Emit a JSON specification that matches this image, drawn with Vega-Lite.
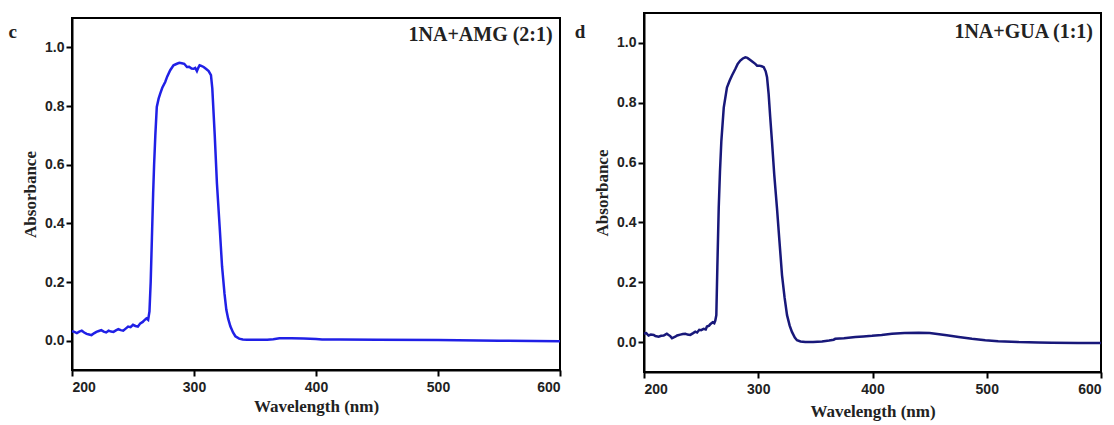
{
  "$schema": "https://vega.github.io/schema/vega-lite/v6.json",
  "background": "white",
  "padding": {"left": 7, "top": 12, "right": 5, "bottom": 5},
  "spacing": 7,
  "center": true,
  "config": {
    "view": {"stroke": "black", "strokeWidth": 2},
    "axis": {
      "grid": false,
      "domainColor": "black",
      "domainWidth": 2,
      "tickColor": "black",
      "tickWidth": 2,
      "tickSize": 6,
      "labelFont": "Liberation Sans",
      "labelFontWeight": "bold",
      "labelFontSize": 14,
      "labelColor": "#222",
      "titleFont": "Liberation Serif",
      "titleFontWeight": "bold",
      "titleFontSize": 17,
      "titleColor": "#222"
    }
  },
  "datasets": {
    "c": [
      {"w": 200, "a": 0.032}, {"w": 202, "a": 0.030}, {"w": 204, "a": 0.026}, {"w": 206, "a": 0.031},
      {"w": 208, "a": 0.034}, {"w": 210, "a": 0.028}, {"w": 212, "a": 0.023}, {"w": 214, "a": 0.021},
      {"w": 216, "a": 0.019}, {"w": 218, "a": 0.025}, {"w": 220, "a": 0.030}, {"w": 222, "a": 0.033},
      {"w": 224, "a": 0.036}, {"w": 226, "a": 0.031}, {"w": 228, "a": 0.028}, {"w": 230, "a": 0.034},
      {"w": 232, "a": 0.031}, {"w": 234, "a": 0.030}, {"w": 236, "a": 0.035}, {"w": 238, "a": 0.039},
      {"w": 240, "a": 0.036}, {"w": 242, "a": 0.034}, {"w": 244, "a": 0.041}, {"w": 246, "a": 0.048},
      {"w": 248, "a": 0.046}, {"w": 250, "a": 0.054}, {"w": 252, "a": 0.050}, {"w": 254, "a": 0.048},
      {"w": 256, "a": 0.059}, {"w": 258, "a": 0.064}, {"w": 259, "a": 0.068}, {"w": 261, "a": 0.076},
      {"w": 262.4, "a": 0.071}, {"w": 263.5, "a": 0.1}, {"w": 264.5, "a": 0.2}, {"w": 265.5, "a": 0.35},
      {"w": 266.5, "a": 0.5}, {"w": 267.3, "a": 0.6}, {"w": 268.3, "a": 0.7}, {"w": 269.5, "a": 0.797},
      {"w": 271, "a": 0.825}, {"w": 272.3, "a": 0.842}, {"w": 274, "a": 0.862}, {"w": 276.4, "a": 0.882},
      {"w": 278, "a": 0.9}, {"w": 280.5, "a": 0.922}, {"w": 283.2, "a": 0.939}, {"w": 286, "a": 0.944},
      {"w": 288, "a": 0.947}, {"w": 290, "a": 0.946}, {"w": 292, "a": 0.944}, {"w": 294.2, "a": 0.933},
      {"w": 296, "a": 0.934}, {"w": 298, "a": 0.928}, {"w": 299.6, "a": 0.927}, {"w": 301, "a": 0.93},
      {"w": 302.4, "a": 0.919}, {"w": 303.5, "a": 0.93}, {"w": 304.6, "a": 0.939}, {"w": 306, "a": 0.937},
      {"w": 307.9, "a": 0.933}, {"w": 310, "a": 0.926}, {"w": 312, "a": 0.919}, {"w": 313.9, "a": 0.905},
      {"w": 315, "a": 0.86}, {"w": 315.5, "a": 0.82}, {"w": 317, "a": 0.7}, {"w": 318.8, "a": 0.536},
      {"w": 321, "a": 0.39}, {"w": 323, "a": 0.253}, {"w": 325, "a": 0.16}, {"w": 326.5, "a": 0.105},
      {"w": 328, "a": 0.075}, {"w": 329.8, "a": 0.049}, {"w": 332, "a": 0.028}, {"w": 333.9, "a": 0.015},
      {"w": 337, "a": 0.007}, {"w": 340, "a": 0.004}, {"w": 343.5, "a": 0.003}, {"w": 350, "a": 0.003},
      {"w": 360, "a": 0.003}, {"w": 365, "a": 0.005}, {"w": 370, "a": 0.008}, {"w": 380, "a": 0.008},
      {"w": 390, "a": 0.007}, {"w": 400, "a": 0.006}, {"w": 405, "a": 0.004}, {"w": 420, "a": 0.004},
      {"w": 450, "a": 0.003}, {"w": 500, "a": 0.002}, {"w": 550, "a": 0.0}, {"w": 600, "a": -0.002}
    ],
    "d": [
      {"w": 200, "a": 0.028}, {"w": 202, "a": 0.030}, {"w": 204, "a": 0.022}, {"w": 206, "a": 0.025},
      {"w": 208.5, "a": 0.024}, {"w": 210, "a": 0.020}, {"w": 212.8, "a": 0.018}, {"w": 215, "a": 0.021},
      {"w": 217.2, "a": 0.022}, {"w": 219, "a": 0.026}, {"w": 220, "a": 0.028}, {"w": 221.5, "a": 0.024},
      {"w": 223, "a": 0.020}, {"w": 224.5, "a": 0.013}, {"w": 226, "a": 0.016}, {"w": 227.4, "a": 0.018},
      {"w": 229, "a": 0.022}, {"w": 231.8, "a": 0.025}, {"w": 234, "a": 0.027}, {"w": 236.2, "a": 0.028},
      {"w": 238, "a": 0.025}, {"w": 240.5, "a": 0.024}, {"w": 243, "a": 0.030}, {"w": 244.9, "a": 0.035},
      {"w": 246.5, "a": 0.032}, {"w": 248.4, "a": 0.041}, {"w": 250, "a": 0.040}, {"w": 252.2, "a": 0.044},
      {"w": 254, "a": 0.042}, {"w": 255.1, "a": 0.052}, {"w": 257, "a": 0.055}, {"w": 258, "a": 0.060},
      {"w": 260.1, "a": 0.066}, {"w": 261.5, "a": 0.063}, {"w": 262.4, "a": 0.072}, {"w": 263.3, "a": 0.09},
      {"w": 264.2, "a": 0.25}, {"w": 265.4, "a": 0.448}, {"w": 266.5, "a": 0.57}, {"w": 267.7, "a": 0.672},
      {"w": 269.8, "a": 0.784}, {"w": 272.6, "a": 0.851}, {"w": 275, "a": 0.874}, {"w": 277, "a": 0.891},
      {"w": 279.9, "a": 0.913}, {"w": 282, "a": 0.93}, {"w": 284.3, "a": 0.941}, {"w": 286.5, "a": 0.948},
      {"w": 288.7, "a": 0.952}, {"w": 290.5, "a": 0.95}, {"w": 293, "a": 0.943}, {"w": 295, "a": 0.937},
      {"w": 297.4, "a": 0.930}, {"w": 299, "a": 0.924}, {"w": 300.9, "a": 0.924}, {"w": 303, "a": 0.922},
      {"w": 304.8, "a": 0.919}, {"w": 306.5, "a": 0.905}, {"w": 307.7, "a": 0.885}, {"w": 309.1, "a": 0.829},
      {"w": 310.5, "a": 0.75}, {"w": 312, "a": 0.672}, {"w": 314, "a": 0.56}, {"w": 316.4, "a": 0.448},
      {"w": 318.5, "a": 0.34}, {"w": 320.8, "a": 0.224}, {"w": 323, "a": 0.15}, {"w": 325.2, "a": 0.09},
      {"w": 327.5, "a": 0.055}, {"w": 329.5, "a": 0.034}, {"w": 332, "a": 0.015}, {"w": 333.9, "a": 0.006},
      {"w": 337, "a": 0.002}, {"w": 341.2, "a": 0.0}, {"w": 348, "a": 0.0}, {"w": 355.8, "a": 0.002},
      {"w": 362, "a": 0.005}, {"w": 366, "a": 0.008}, {"w": 367.4, "a": 0.011}, {"w": 375, "a": 0.013},
      {"w": 385, "a": 0.017}, {"w": 392, "a": 0.019}, {"w": 399.6, "a": 0.021}, {"w": 408, "a": 0.024},
      {"w": 417, "a": 0.028}, {"w": 428, "a": 0.030}, {"w": 440.4, "a": 0.031}, {"w": 450, "a": 0.030},
      {"w": 455, "a": 0.028}, {"w": 465, "a": 0.023}, {"w": 475.4, "a": 0.017}, {"w": 487, "a": 0.011},
      {"w": 498.7, "a": 0.006}, {"w": 510, "a": 0.003}, {"w": 528, "a": 0.0}, {"w": 545, "a": -0.001},
      {"w": 557, "a": -0.002}, {"w": 580, "a": -0.003}, {"w": 600, "a": -0.003}
    ]
  },
  "hconcat": [
    {
      "width": 488,
      "height": 352,
      "layer": [
        {
          "data": {"name": "c"},
          "mark": {"type": "line", "color": "#2020e6", "strokeWidth": 2.5},
          "encoding": {
            "x": {"field": "w", "type": "quantitative", "scale": {"domain": [200, 600], "nice": false, "zero": false},
                  "axis": {"title": "Wavelength (nm)", "values": [200, 300, 400, 500, 600], "format": "d", "labelPadding": 4, "titlePadding": 4}},
            "y": {"field": "a", "type": "quantitative", "scale": {"domain": [-0.1, 1.1], "nice": false, "zero": false},
                  "axis": {"title": "Absorbance", "values": [0, 0.2, 0.4, 0.6, 0.8, 1.0], "format": ".1f", "labelPadding": 2, "titlePadding": 5}}
          }
        },
        {
          "data": {"values": [{}]},
          "mark": {"type": "text", "align": "right", "baseline": "middle", "font": "Liberation Serif", "fontWeight": "bold", "fontSize": 20, "color": "#222"},
          "encoding": {"x": {"datum": 594}, "y": {"datum": 1.041}, "text": {"value": "1NA+AMG (2:1)"}}
        },
        {
          "data": {"values": [{}]},
          "mark": {"type": "text", "align": "center", "baseline": "middle", "font": "Liberation Serif", "fontWeight": "bold", "fontSize": 19, "color": "#222"},
          "encoding": {"x": {"datum": 151.5}, "y": {"datum": 1.051}, "text": {"value": "c"}}
        }
      ]
    },
    {
      "width": 457,
      "height": 359,
      "layer": [
        {
          "data": {"name": "d"},
          "mark": {"type": "line", "color": "#18187a", "strokeWidth": 2.5},
          "encoding": {
            "x": {"field": "w", "type": "quantitative", "scale": {"domain": [200, 600], "nice": false, "zero": false},
                  "axis": {"title": "Wavelength (nm)", "values": [200, 300, 400, 500, 600], "format": "d", "labelPadding": 4, "titlePadding": 7}},
            "y": {"field": "a", "type": "quantitative", "scale": {"domain": [-0.1, 1.1], "nice": false, "zero": false},
                  "axis": {"title": "Absorbance", "values": [0, 0.2, 0.4, 0.6, 0.8, 1.0], "format": ".1f", "labelPadding": 2, "titlePadding": 5}}
          }
        },
        {
          "data": {"values": [{}]},
          "mark": {"type": "text", "align": "right", "baseline": "middle", "font": "Liberation Serif", "fontWeight": "bold", "fontSize": 20, "color": "#222"},
          "encoding": {"x": {"datum": 593}, "y": {"datum": 1.035}, "text": {"value": "1NA+GUA (1:1)"}}
        },
        {
          "data": {"values": [{}]},
          "mark": {"type": "text", "align": "center", "baseline": "middle", "font": "Liberation Serif", "fontWeight": "bold", "fontSize": 19, "color": "#222"},
          "encoding": {"x": {"datum": 144}, "y": {"datum": 1.035}, "text": {"value": "d"}}
        }
      ]
    }
  ]
}
